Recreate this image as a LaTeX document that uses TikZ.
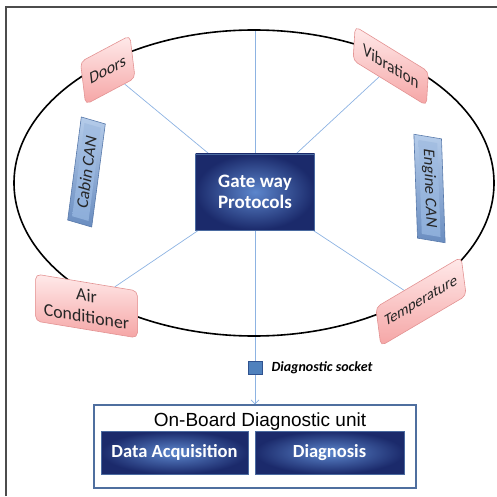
\documentclass[tikz,border=0pt]{standalone}
\usepackage{fontspec}
\setmainfont{Carlito}
\newfontfamily\arialfont{Liberation Sans}
\usetikzlibrary{arrows.meta,shapes.geometric,backgrounds}

\definecolor{navy}{HTML}{1B2A6B}
\definecolor{midblue}{HTML}{5C86CC}
\definecolor{boxedge}{HTML}{4A6AA0}
\definecolor{linkblue}{HTML}{8DB3E2}
\definecolor{pinkedge}{HTML}{E39393}
\definecolor{pinklight}{HTML}{FFEAEA}
\definecolor{pinkdark}{HTML}{F5A5A5}
\definecolor{canlight}{HTML}{B5CCEA}
\definecolor{canmid}{HTML}{8DAEDA}
\definecolor{candark}{HTML}{6A8DC0}
\definecolor{canedge}{HTML}{5879AA}
\definecolor{socketfill}{HTML}{4F81BD}
\definecolor{socketedge}{HTML}{2F528F}
\definecolor{obdedge}{HTML}{4F6F9F}

\tikzset{
  darkbox/.style={draw=boxedge, line width=0.8pt, inner color=midblue,
    outer color=navy, text=white, align=center, inner sep=0pt},
  pinkbox/.style={draw=pinkedge, line width=0.6pt, rounded corners=5pt,
    top color=pinklight, bottom color=pinkdark, text=black!85,
    align=center, inner sep=0pt, transform shape},
  canframe/.style={draw=canedge, line width=0.6pt, top color=canlight,
    bottom color=candark, inner sep=0pt, transform shape},
  canface/.style={top color=canmid!80!white, bottom color=canmid,
    text=black!85, inner sep=0pt, transform shape},
  link/.style={draw=linkblue, line width=0.7pt},
  frameline/.style={draw=black!70, line width=1.2pt},
}

\begin{document}
\begin{tikzpicture}[x=1pt,y=1pt]
\useasboundingbox (0,0) rectangle (497,496);

% page frame
\draw[frameline] (6,0) -- (6,489) -- (497,489);

% vehicle outline
\node[draw, line width=1.6pt, ellipse, minimum width=480, minimum height=306,
      inner sep=0pt] (ring) at (254,313) {};

% central gateway
\node[darkbox, minimum width=119, minimum height=76,
      font=\bfseries\fontsize{19}{21}\selectfont] (gw) at (255,304)
      {Gate way\\Protocols};

% sensor nodes on the outline
\begin{scope}[shift={(107.75,426)}, cm={0.883,0.469,-0.12,0.99,(0,0)}]
  \node[pinkbox, minimum width=56, minimum height=43,
        font=\fontsize{17}{19}\selectfont] (doors) at (0,0) {Doors};
\end{scope}
\begin{scope}[shift={(390.75,430)}, cm={0.852,-0.524,0.06,0.998,(0,0)}]
  \node[pinkbox, minimum width=86, minimum height=34,
        font=\fontsize{17.5}{19}\selectfont] (vib) at (0,0) {Vibration};
\end{scope}
\begin{scope}[shift={(86.5,190)}, cm={0.987,-0.163,0,1,(0,0)}]
  \node[pinkbox, minimum width=103, minimum height=47,
        font=\fontsize{18}{21}\selectfont] (air) at (0,0) {Air\\Conditioner};
\end{scope}
\begin{scope}[shift={(421,194.5)}, cm={0.862,0.508,-0.13,0.99,(0,0)}]
  \node[pinkbox, minimum width=99, minimum height=39,
        font=\fontsize{16}{18}\selectfont] (temp) at (0,0) {Temperature};
\end{scope}

% CAN buses: bevelled bars
\begin{scope}[shift={(86.5,324)}, cm={0.131,0.991,-0.96,0.28,(0,0)}]
  \node[canframe, minimum width=104, minimum height=25] (cabin) at (0,0) {};
  \node[canface, minimum width=94, minimum height=17,
        font=\fontsize{17}{18}\selectfont] (cabintext) at (0,0) {Cabin CAN};
\end{scope}
\begin{scope}[shift={(429.5,307.5)}, cm={0.035,-0.999,0.986,-0.164,(0,0)}]
  \node[canframe, minimum width=104, minimum height=28] (engine) at (0,0) {};
  \node[canface, minimum width=94, minimum height=19,
        font=\fontsize{16.5}{18}\selectfont] (enginetext) at (0,0) {Engine CAN};
\end{scope}

% on-board diagnostic unit
\node[draw=obdedge, line width=1.2pt, minimum width=322, minimum height=83,
      inner sep=0pt] (obd) at (255,49.5) {};
\node[font=\arialfont\fontsize{19}{21}\selectfont] (obdtitle) at (260,74)
      {On-Board Diagnostic unit};
\node[darkbox, minimum width=147, minimum height=43,
      font=\bfseries\fontsize{18.5}{20}\selectfont] (acq) at (174.5,43.5)
      {Data Acquisition};
\node[darkbox, minimum width=149, minimum height=43,
      font=\bfseries\fontsize{18.5}{20}\selectfont] (diag) at (329.5,43.5)
      {Diagnosis};

% connectors
\begin{scope}[on background layer]
  \draw[link] (gw.north) -- (gw.north |- ring.north);
  \draw[link] (gw) -- (doors);
  \draw[link] (gw) -- (vib);
  \draw[link] (gw) -- (air);
  \draw[link] (gw) -- (temp);
  \draw[link, -{Straight Barb[length=4pt,width=8pt]}] (gw.south) -- (obd.north);
\end{scope}

% diagnostic socket
\node[draw=socketedge, fill=socketfill, line width=0.6pt, minimum width=14,
      minimum height=13, inner sep=0pt] (sock) at (255,128) {};
\node[anchor=west, font=\bfseries\itshape\fontsize{14}{16}\selectfont]
      (socklabel) at (268,128) {Diagnostic socket};
\end{tikzpicture}
\end{document}
